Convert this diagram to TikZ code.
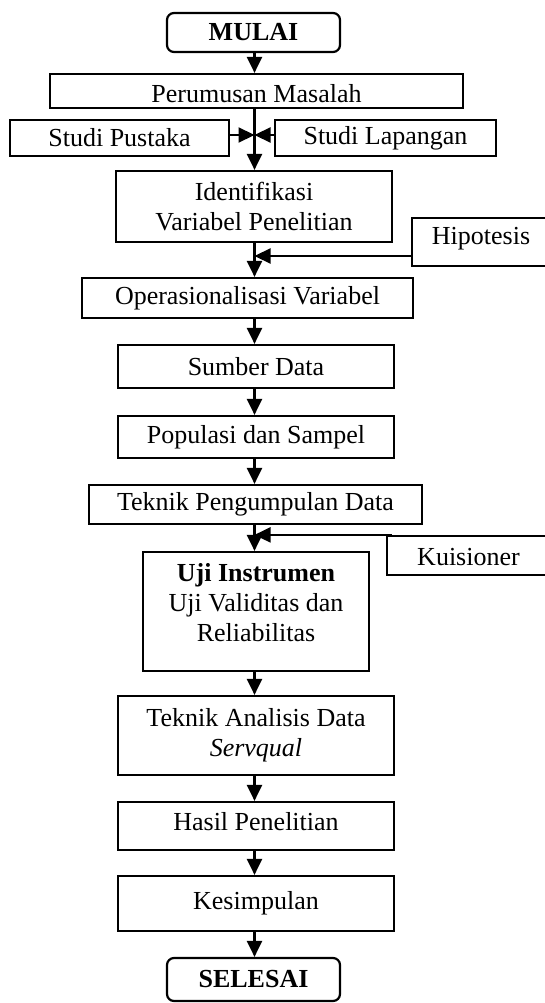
\documentclass[tikz,border=0pt]{standalone}
\usepackage{fontspec}
\setmainfont{Liberation Serif}
\usetikzlibrary{arrows.meta}
\newcommand\shiftdn[2]{\raisebox{-#1}[\height][\depth]{#2}}
\begin{document}
\begin{tikzpicture}[x=1pt,y=-1pt,line width=2.2pt,
  txt/.style={align=center,inner sep=0pt,font=\fontsize{26}{30}\selectfont},
  box/.style={txt,draw,rectangle},
  term/.style={box,rounded corners=7pt},
  arr/.style={-{Triangle[length=16pt,width=15pt]}}]
\useasboundingbox (0,0) rectangle (545,1003);
\coordinate (cx) at (254.5,0);
% nodes
\node[term,minimum width=173pt,minimum height=39pt] (mulai) at (253.5,32.5) {\textbf{MULAI}};
\node[box,minimum width=413pt,minimum height=34pt] (rum) at (256.5,91) {\shiftdn{2.5pt}{Perumusan Masalah}};
\node[box,minimum width=219pt,minimum height=36pt] (pus) at (119.5,138) {Studi Pustaka};
\node[box,minimum width=221pt,minimum height=36pt] (lap) at (385.5,138) {Studi Lapangan};
\node[box,minimum width=276pt,minimum height=71pt] (idv) at (254,206.5) {Identifikasi\\Variabel Penelitian};
\node[box,minimum width=138pt,minimum height=48pt] (hip) at (481,242) {\shiftdn{-3pt}{Hipotesis}};
\node[box,minimum width=331pt,minimum height=40pt] (ops) at (247.5,298) {Operasionalisasi Variabel};
\node[box,minimum width=276pt,minimum height=43pt] (sum) at (256,366.5) {Sumber Data};
\node[box,minimum width=276pt,minimum height=42pt] (pop) at (256,437) {Populasi dan Sampel};
\node[box,minimum width=333pt,minimum height=39pt] (tpd) at (255.5,504.5) {Teknik Pengumpulan Data};
\node[box,minimum width=163pt,minimum height=39pt] (kui) at (468.5,555.5) {\shiftdn{2pt}{Kuisioner}};
\node[box,minimum width=226pt,minimum height=119pt] (uji) at (256,611.5) {};
\node[txt] (ujit) at (256,603) {\textbf{Uji Instrumen}\\Uji Validitas dan\\Reliabilitas};
\node[box,minimum width=276pt,minimum height=79pt] (tad) at (256,735.5) {Teknik Analisis Data\\\textit{Servqual}};
\node[box,minimum width=276pt,minimum height=48pt] (has) at (256,826) {\shiftdn{-4pt}{Hasil Penelitian}};
\node[box,minimum width=276pt,minimum height=55pt] (kes) at (256,903.5) {Kesimpulan};
\node[term,minimum width=173pt,minimum height=43pt] (sel) at (253.5,979.5) {\textbf{SELESAI}};
% connectors
\coordinate (j1) at (254.5,135);
\coordinate (j2) at (254.5,256);
\draw[arr] (mulai.south -| cx) -- (rum.north -| cx);
\draw[arr] (rum.south -| cx) -- (idv.north -| cx);
\draw[arr] (pus.east |- j1) -- (j1);
\draw[arr] (lap.west |- j1) -- (j1);
\draw[arr] (idv.south -| cx) -- (ops.north -| cx);
\draw[arr] (hip.west |- j2) -- (j2);
\draw[arr] (ops.south -| cx) -- (sum.north -| cx);
\draw[arr] (sum.south -| cx) -- (pop.north -| cx);
\draw[arr] (pop.south -| cx) -- (tpd.north -| cx);
\draw[arr] (tpd.south -| cx) -- (uji.north -| cx);
\draw[arr] ([xshift=6pt]kui.north west) -- (kui.north west -| cx);
\draw[arr] (uji.south -| cx) -- (tad.north -| cx);
\draw[arr] (tad.south -| cx) -- (has.north -| cx);
\draw[arr] (has.south -| cx) -- (kes.north -| cx);
\draw[arr] (kes.south -| cx) -- (sel.north -| cx);
\end{tikzpicture}
\end{document}
